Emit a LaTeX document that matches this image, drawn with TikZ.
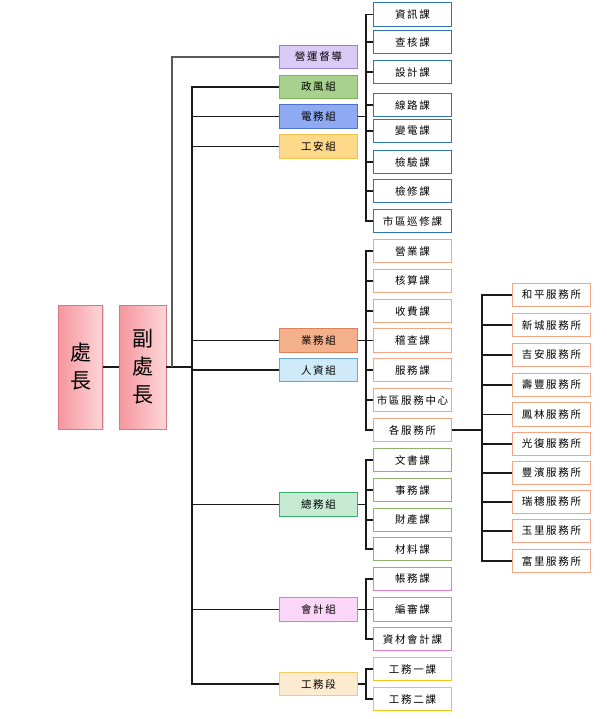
\documentclass[tikz,border=0pt]{standalone}
\usepackage{fontspec}
\newfontfamily\cjk[LetterSpace=16]{Noto Sans CJK TC}
\newfontfamily\cjkbig{Noto Sans CJK TC}
\usetikzlibrary{shadows}
\definecolor{lnc}{HTML}{1A1A1A}
\definecolor{pinkA}{HTML}{F5969D}
\definecolor{pinkB}{HTML}{FDD6D8}
\definecolor{pinkD}{HTML}{D9787E}
\definecolor{elb}{HTML}{2E75B6}
\definecolor{yeb}{HTML}{F4A582}
\definecolor{zwb}{HTML}{8DB46A}
\definecolor{kjb}{HTML}{E878C8}
\definecolor{gwb}{HTML}{F5C518}
\definecolor{yyF}{HTML}{D9CBF5}\definecolor{yyD}{HTML}{9B80D3}
\definecolor{zfF}{HTML}{A9D18E}\definecolor{zfD}{HTML}{7FB25A}
\definecolor{dwF}{HTML}{8FA9F2}\definecolor{dwD}{HTML}{4F72C8}
\definecolor{gaF}{HTML}{FFD98A}\definecolor{gaD}{HTML}{F4C24A}
\definecolor{ywF}{HTML}{F4B08A}\definecolor{ywD}{HTML}{E0805A}
\definecolor{rzF}{HTML}{CFEBFA}\definecolor{rzD}{HTML}{6FA3D6}
\definecolor{zwF}{HTML}{C6EBD2}\definecolor{zwD}{HTML}{3DAE6A}
\definecolor{kjF}{HTML}{FBD6F8}\definecolor{kjD}{HTML}{E274D2}
\definecolor{gwF}{HTML}{FDEBCF}\definecolor{gwD}{HTML}{F5CC66}
\begin{document}
\begin{tikzpicture}[x=1pt,y=-1pt,
  box/.style={rectangle, draw, line width=1.3pt, minimum width=78pt, minimum height=23.5pt, inner sep=0pt, font=\cjk\fontsize{10.5}{12}\selectfont},
  grp/.style={box, fill=#1F, draw=#1D},
  sub/.style={box, fill=white, draw=#1},
  chief/.style={rectangle, draw=pinkD, line width=0.8pt, left color=pinkA, right color=pinkB, inner sep=0pt, minimum height=124pt, align=center, font=\cjkbig\fontsize{21}{28}\selectfont, drop shadow={shadow xshift=1pt, shadow yshift=-1pt, opacity=0.25}},
  conn/.style={draw=lnc, line width=1.2pt},
]
\useasboundingbox (0,0) rectangle (606,719);
\fill[white] (0,0) rectangle (606,719);

% chiefs
\node[chief, minimum width=44pt] (boss) at (80.5,367) {處\\長};
\node[chief, minimum width=47pt] (vice) at (142.5,367) {副\\處\\長};

% groups
\node[grp=yy] (yy) at (318.5,57) {營運督導};
\node[grp=zf] (zf) at (318.5,87) {政風組};
\node[grp=dw] (dw) at (318.5,116.5) {電務組};
\node[grp=ga] (ga) at (318.5,146.5) {工安組};
\node[grp=yw] (yw) at (318.5,340.5) {業務組};
\node[grp=rz] (rz) at (318.5,370) {人資組};
\node[grp=zw] (zw) at (318.5,504.5) {總務組};
\node[grp=kj] (kj) at (318.5,609.5) {會計組};
\node[grp=gw] (gw) at (318.5,684) {工務段};

% 電務組 subs
\foreach \n/\y/\t in {d1/14.5/資訊課, d2/42/查核課, d3/72/設計課, d4/105/線路課, d5/131/變電課, d6/162/檢驗課, d7/191/檢修課, d8/221/市區巡修課}
  \node[sub=elb] (\n) at (412.5,\y) {\t};
% 業務組 subs
\foreach \n/\y/\t in {y1/251/營業課, y2/281/核算課, y3/311/收費課, y4/340.5/稽查課, y5/370/服務課, y6/400/市區服務中心, y7/430/各服務所}
  \node[sub=yeb] (\n) at (412.5,\y) {\t};
% 總務組 subs
\foreach \n/\y/\t in {z1/460/文書課, z2/490/事務課, z3/520/財產課, z4/549/材料課}
  \node[sub=zwb] (\n) at (412.5,\y) {\t};
% 會計組 subs
\foreach \n/\y/\t in {k1/579/帳務課, k2/609.5/編審課, k3/639/資材會計課}
  \node[sub=kjb] (\n) at (412.5,\y) {\t};
% 工務段 subs
\foreach \n/\y/\t in {g1/669/工務一課, g2/699/工務二課}
  \node[sub=gwb] (\n) at (412.5,\y) {\t};
% 服務所
\foreach \n/\y/\t in {s1/295/和平服務所, s2/325/新城服務所, s3/355/吉安服務所, s4/385/壽豐服務所, s5/414.5/鳳林服務所, s6/444/光復服務所, s7/473/豐濱服務所, s8/502/瑞穗服務所, s9/531/玉里服務所, s10/561/富里服務所}
  \node[sub=yeb] (\n) at (551.5,\y) {\t};

% connectors
\coordinate (J) at (192,367);
\coordinate (K) at (172,367);
\draw[conn] (boss.east) -- (vice.west);
\draw[conn] (vice.east) -- (J);
\draw[conn, draw=gray!70!black] (K) |- (yy.west);
\foreach \g in {zf,dw,ga,yw,rz,zw,kj,gw}
  \draw[conn] (J) |- (\g.west);

\coordinate (Bdw) at (366,116.5);
\coordinate (Byw) at (366,340.5);
\coordinate (Bzw) at (366,504.5);
\coordinate (Bkj) at (366,609.5);
\coordinate (Bgw) at (366,684);
\draw[conn] (dw.east) -- (Bdw);
\draw[conn] (yw.east) -- (Byw);
\draw[conn] (zw.east) -- (Bzw);
\draw[conn] (kj.east) -- (Bkj);
\draw[conn] (gw.east) -- (Bgw);
\foreach \c in {d1,d2,d3,d4,d5,d6,d7,d8}
  \draw[conn] (Bdw) |- (\c.west);
\foreach \c in {y1,y2,y3,y4,y5,y6,y7}
  \draw[conn] (Byw) |- (\c.west);
\foreach \c in {z1,z2,z3,z4}
  \draw[conn] (Bzw) |- (\c.west);
\foreach \c in {k1,k2,k3}
  \draw[conn] (Bkj) |- (\c.west);
\foreach \c in {g1,g2}
  \draw[conn] (Bgw) |- (\c.west);

\coordinate (Bs) at (482,430);
\draw[conn] (y7.east) -- (Bs);
\foreach \c in {s1,s2,s3,s4,s5,s6,s7,s8,s9,s10}
  \draw[conn] (Bs) |- (\c.west);
\end{tikzpicture}
\end{document}
